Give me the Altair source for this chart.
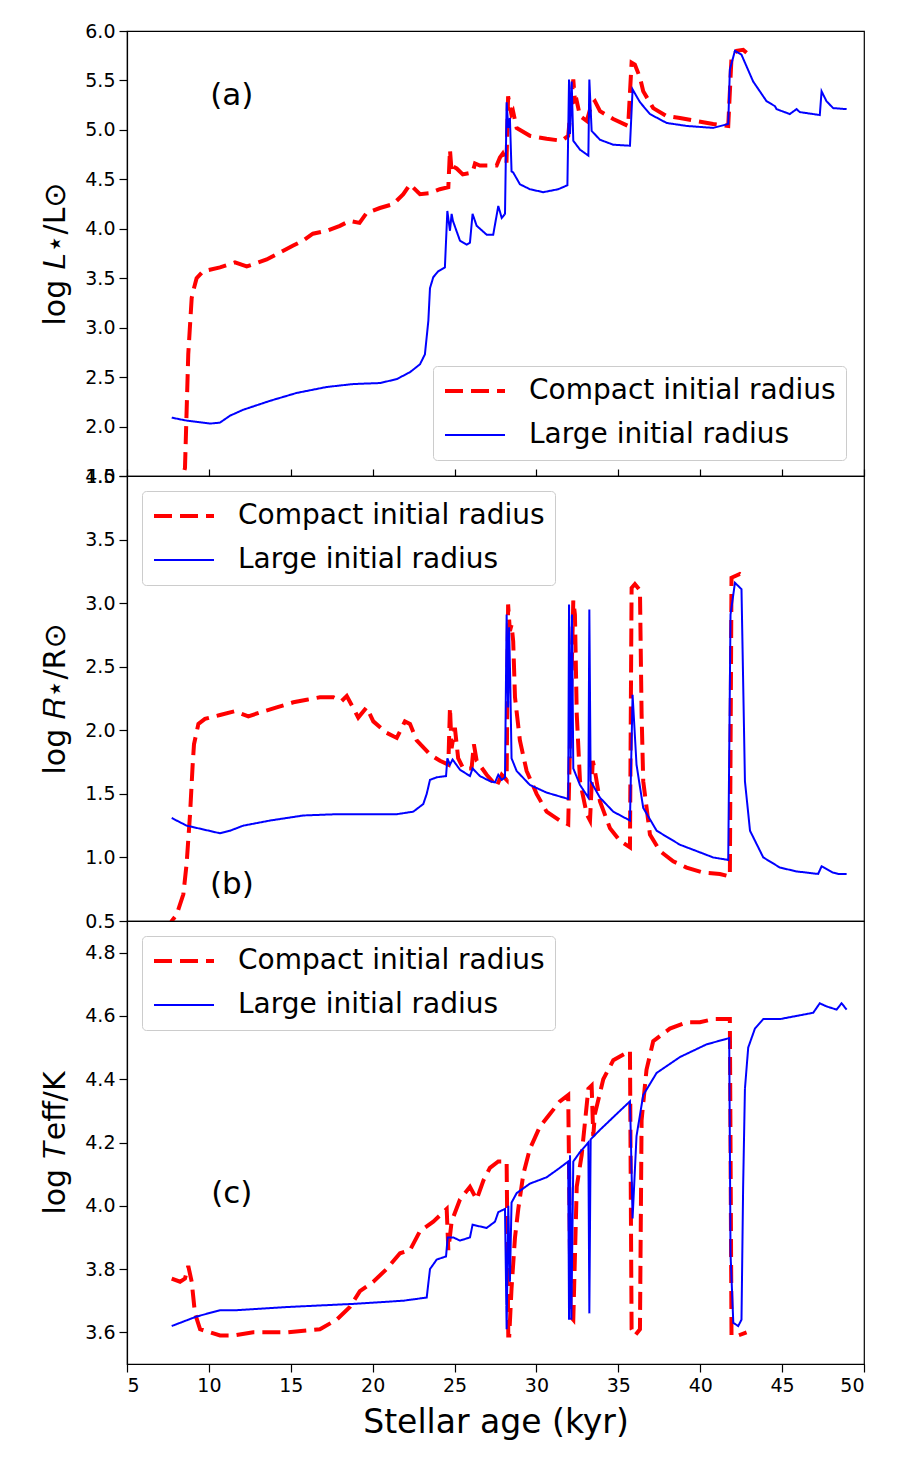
import altair as alt
import pandas as pd

SERIES = ["Compact initial radius", "Large initial radius"]
X_TICKS = [5, 10, 15, 20, 25, 30, 35, 40, 45, 50]

# ---------------- Panel (a): log L*/Lsun ----------------
a_red_t = [8.30, 8.42, 8.54, 8.74, 8.95, 9.09, 9.25, 9.64, 10.68, 11.59, 12.31, 12.69, 13.53, 14.34,
           15.15, 15.74, 16.35, 17.19, 18.0, 18.6, 19.2, 19.63, 20.44, 21.26, 21.87, 22.28, 22.46,
           22.89, 23.5, 24.1, 24.62, 24.72, 24.82, 24.9, 25.13, 25.5, 26.1, 26.25, 26.55, 27.16,
           27.57, 27.77, 27.94, 28.17, 28.27, 28.47, 28.57, 28.79, 29.6, 30.62, 31.54, 31.94, 32.25,
           32.35, 32.45, 32.66, 33.07, 33.37, 33.57, 33.88, 34.69, 35.6, 35.81, 36.01, 36.32, 36.52,
           37.13, 37.95, 38.76, 39.78, 40.79, 41.71, 41.91, 42.22, 42.62, 42.83]
a_red_v = [1.30, 1.50, 1.58, 2.73, 3.30, 3.40, 3.50, 3.57, 3.61, 3.66, 3.62, 3.64, 3.69, 3.76,
           3.83, 3.88, 3.95, 3.98, 4.03, 4.08, 4.06, 4.16, 4.21, 4.25, 4.35, 4.45, 4.42,
           4.35, 4.36, 4.40, 4.42, 4.80, 4.58, 4.63, 4.61, 4.55, 4.57, 4.66, 4.64, 4.64,
           4.64, 4.72, 4.76, 4.66, 5.34, 5.16, 5.19, 5.02, 4.94, 4.91, 4.89, 4.94, 5.51,
           5.29, 5.30, 5.14, 5.09, 5.26, 5.29, 5.19, 5.11, 5.04, 5.68, 5.66, 5.53, 5.39,
           5.22, 5.14, 5.12, 5.09, 5.06, 5.04, 5.73, 5.80, 5.81, 5.78]
a_blue_t = [7.73, 8.64, 10.07, 10.68, 11.29, 12.1, 13.73, 15.36, 17.19, 18.82, 20.45, 21.47, 22.28,
            22.89, 23.19, 23.4, 23.5, 23.7, 24.0, 24.41, 24.56, 24.72, 24.82, 24.9, 25.33, 25.74,
            25.94, 26.1, 26.35, 26.96, 27.36, 27.67, 27.88, 28.08, 28.18, 28.28, 28.38, 28.48,
            28.58, 28.99, 29.6, 30.42, 31.33, 31.89, 31.99, 32.05, 32.15, 32.25, 32.66, 33.17,
            33.23, 33.37, 33.88, 34.69, 35.71, 35.87, 36.32, 36.93, 37.95, 39.17, 40.79, 41.71,
            41.81, 42.12, 42.52, 43.23, 44.05, 44.56, 44.66, 45.47, 45.88, 46.08, 47.3, 47.41,
            47.71, 48.12, 48.94]
a_blue_v = [2.09, 2.06, 2.03, 2.04, 2.11, 2.17, 2.26, 2.34, 2.40, 2.43, 2.44, 2.48, 2.55,
            2.63, 2.73, 3.07, 3.40, 3.51, 3.57, 3.61, 4.18, 3.98, 4.15, 4.08, 3.88, 3.84,
            3.86, 4.15, 4.03, 3.94, 3.94, 4.23, 4.11, 4.15, 5.28, 5.02, 5.12, 4.58,
            4.57, 4.45, 4.40, 4.37, 4.40, 4.44, 5.51, 4.96, 5.49, 4.89, 4.80, 4.74,
            5.51, 4.99, 4.90, 4.85, 4.84, 5.41, 5.28, 5.16, 5.07, 5.04, 5.02, 5.06,
            5.61, 5.80, 5.76, 5.49, 5.29, 5.24, 5.21, 5.16, 5.21, 5.18, 5.15, 5.39,
            5.29, 5.22, 5.21]

# ---------------- Panel (b): log R*/Rsun ----------------
b_red_t = [7.60, 7.73, 8.03, 8.44, 8.64, 8.85, 9.01, 9.09, 9.36, 9.76, 10.68, 11.59, 12.41, 13.12,
           14.14, 15.16, 15.97, 16.78, 17.6, 18.11, 18.42, 19.12, 19.63, 20.04, 20.85, 21.47,
           21.97, 22.28, 22.69, 23.5, 24.11, 24.62, 24.72, 24.82, 25.02, 25.22, 25.53, 26.04,
           26.18, 26.35, 26.96, 27.57, 27.88, 28.18, 28.27, 28.38, 28.48, 28.58, 28.69, 28.99,
           29.4, 30.01, 30.62, 31.43, 31.94, 32.09, 32.25, 32.35, 32.46, 32.66, 33.07, 33.27,
           33.44, 33.57, 33.88, 34.49, 35.1, 35.71, 35.81, 36.01, 36.32, 36.42, 36.52, 36.93,
           37.54, 38.35, 39.17, 40.18, 41.2, 41.81, 41.91, 42.42, 42.83]
b_red_v = [0.40, 0.50, 0.55, 0.71, 0.95, 1.34, 1.73, 1.89, 2.05, 2.09, 2.12, 2.15, 2.11, 2.14,
           2.18, 2.22, 2.24, 2.26, 2.26, 2.23, 2.27, 2.10, 2.18, 2.07, 1.98, 1.94,
           2.07, 2.05, 1.92, 1.81, 1.76, 1.73, 2.18, 1.86, 2.02, 1.78, 1.70, 1.70,
           1.89, 1.76, 1.65, 1.56, 1.65, 1.61, 2.99, 2.78, 2.83, 2.70, 2.26, 1.92,
           1.68, 1.50, 1.36, 1.29, 1.26, 2.13, 3.02, 2.91, 2.13, 1.60, 1.34, 1.29,
           1.76, 1.68, 1.44, 1.23, 1.13, 1.08, 3.12, 3.15, 3.10, 2.13, 1.60, 1.18,
           1.05, 0.97, 0.92, 0.88, 0.87, 0.85, 3.20, 3.23, 3.20]
b_blue_t = [7.73, 8.64, 10.68, 11.29, 12.1, 13.73, 15.77, 17.8, 19.84, 21.47, 22.48, 23.09, 23.3,
            23.5, 23.91, 24.48, 24.56, 24.72, 24.88, 25.33, 25.94, 26.1, 26.55, 27.16, 27.47,
            27.67, 27.88, 28.08, 28.18, 28.27, 28.33, 28.40, 28.48, 28.79, 29.6, 30.62, 31.94,
            31.99, 32.09, 32.17, 32.25, 32.66, 33.17, 33.23, 33.31, 33.88, 34.69, 35.71, 35.87,
            36.11, 36.52, 37.34, 38.76, 39.78, 40.79, 41.71, 41.85, 42.12, 42.52, 42.73, 43.04,
            43.85, 44.87, 45.88, 47.2, 47.41, 48.12, 48.43, 48.94]
b_blue_v = [1.31, 1.25, 1.19, 1.21, 1.25, 1.29, 1.33, 1.34, 1.34, 1.34, 1.36, 1.42, 1.50,
            1.61, 1.63, 1.64, 1.78, 1.73, 1.77, 1.69, 1.64, 1.70, 1.64, 1.60, 1.59,
            1.65, 1.61, 1.63, 2.91, 2.18, 2.81, 2.39, 1.78, 1.68, 1.57, 1.51, 1.46,
            2.99, 1.78, 2.91, 1.70, 1.57, 1.47, 2.95, 1.60, 1.47, 1.36, 1.29, 2.28,
            1.73, 1.39, 1.21, 1.10, 1.05, 1.00, 0.98, 2.91, 3.16, 3.11, 1.60, 1.21,
            1.00, 0.92, 0.89, 0.87, 0.93, 0.88, 0.87, 0.87]

# ---------------- Panel (c): log Teff/K ----------------
c_red_t = [7.73, 8.24, 8.54, 8.74, 8.95, 9.15, 9.46, 10.68, 11.49, 12.71, 14.75, 16.78, 17.8, 18.61,
           19.22, 20.04, 20.85, 21.67, 22.28, 22.89, 23.7, 24.52, 24.62, 24.82, 25.33, 25.94,
           26.35, 26.76, 27.16, 27.67, 28.18, 28.28, 28.34, 28.48, 28.69, 28.89, 29.2, 29.6,
           30.21, 30.82, 31.43, 31.94, 32.09, 32.25, 32.46, 32.76, 33.17, 33.37, 33.47, 33.57,
           34.08, 34.69, 35.71, 35.81, 36.01, 36.32, 36.42, 36.72, 37.13, 38.15, 39.17, 39.98,
           40.79, 41.81, 41.91, 42.32, 42.83]
c_red_v = [3.77, 3.76, 3.77, 3.81, 3.76, 3.66, 3.61, 3.59, 3.59, 3.60, 3.60, 3.61, 3.64, 3.68,
           3.73, 3.76, 3.80, 3.85, 3.86, 3.92, 3.95, 3.99, 3.86, 3.95, 4.02, 4.06,
           4.02, 4.08, 4.12, 4.14, 4.14, 3.59, 3.59, 3.74, 3.90, 3.99, 4.10, 4.18,
           4.25, 4.29, 4.33, 4.35, 3.65, 3.64, 4.06, 4.16, 4.37, 4.38, 4.22, 4.29,
           4.40, 4.46, 4.49, 3.61, 3.59, 3.61, 4.27, 4.43, 4.52, 4.56, 4.58, 4.58,
           4.59, 4.59, 3.59, 3.59, 3.60]
c_blue_t = [7.73, 9.25, 10.68, 11.7, 14.75, 18.82, 21.87, 23.3, 23.5, 23.91, 24.48, 24.58, 24.93,
            25.33, 25.94, 26.1, 26.96, 27.47, 27.67, 28.08, 28.18, 28.28, 28.38, 28.48, 28.79,
            29.6, 30.62, 31.43, 31.94, 31.99, 32.05, 32.13, 32.25, 32.66, 33.17, 33.23, 33.31,
            33.88, 34.69, 35.71, 35.75, 35.87, 36.11, 36.52, 37.34, 38.76, 40.38, 41.77, 41.85,
            42.02, 42.32, 42.52, 42.62, 42.73, 42.93, 43.34, 43.85, 44.87, 45.88, 46.9, 47.3,
            47.71, 48.33, 48.63, 48.94]
c_blue_v = [3.62, 3.65, 3.67, 3.67, 3.68, 3.69, 3.70, 3.71, 3.80, 3.83, 3.84, 3.90, 3.90,
            3.89, 3.90, 3.94, 3.93, 3.95, 3.98, 3.99, 3.61, 4.00, 3.76, 4.01, 4.04,
            4.07, 4.09, 4.12, 4.14, 3.64, 4.16, 3.64, 4.14, 4.17, 4.20, 3.66, 4.21,
            4.24, 4.28, 4.33, 4.25, 3.96, 4.22, 4.35, 4.42, 4.47, 4.51, 4.53, 3.85,
            3.63, 3.62, 3.64, 4.06, 4.37, 4.50, 4.56, 4.59, 4.59, 4.60, 4.61, 4.64,
            4.63, 4.62, 4.64, 4.62]

FONT = "DejaVu Sans"


def frame(rt, rv, bt, bv):
    rows = []
    for i, (t, v) in enumerate(zip(rt, rv)):
        rows.append({"t": t, "v": v, "series": SERIES[0], "i": i})
    for i, (t, v) in enumerate(zip(bt, bv)):
        rows.append({"t": t, "v": v, "series": SERIES[1], "i": i})
    return pd.DataFrame(rows)


def panel(df, ydom, yvals, ytitle, label, lt, lv, lx, ly, xaxis, height):
    leg = alt.Legend(orient="none", legendX=lx, legendY=ly, title=None,
                     labelFontSize=28, labelFont=FONT, labelColor="black", labelLimit=500,
                     symbolType="stroke", symbolSize=3600, labelOffset=22,
                     fillColor="white", strokeColor="#cccccc", cornerRadius=4,
                     padding=10, rowPadding=14, clipHeight=30)
    xenc = alt.X("t:Q", scale=alt.Scale(domain=[5, 50], nice=False, zero=False), axis=xaxis)
    yenc = alt.Y("v:Q", scale=alt.Scale(domain=ydom, nice=False, zero=False),
                 axis=alt.Axis(values=yvals, format=".1f", title=ytitle, titlePadding=14))
    lines = alt.Chart(df).mark_line(clip=True).encode(
        x=xenc, y=yenc,
        color=alt.Color("series:N", scale=alt.Scale(domain=SERIES, range=["#ff0000", "#0000ff"]), legend=leg),
        strokeDash=alt.StrokeDash("series:N", scale=alt.Scale(domain=SERIES, range=[[18, 8], [1, 0]]), legend=leg),
        strokeWidth=alt.StrokeWidth("series:N", scale=alt.Scale(domain=SERIES, range=[4, 2]), legend=leg),
        order="i:Q",
    )
    lab = alt.Chart(pd.DataFrame({"t": [lt], "v": [lv], "txt": [label]})).mark_text(
        fontSize=31, font=FONT, color="black"
    ).encode(x=alt.X("t:Q"), y=alt.Y("v:Q"), text="txt:N")
    return alt.layer(lines, lab).properties(width=737, height=height)


df_a = frame(a_red_t, a_red_v, a_blue_t, a_blue_v)
df_b = frame(b_red_t, b_red_v, b_blue_t, b_blue_v)
df_c = frame(c_red_t, c_red_v, c_blue_t, c_blue_v)

pa = panel(df_a, [1.5, 6.0], [1.5, 2.0, 2.5, 3.0, 3.5, 4.0, 4.5, 5.0, 5.5, 6.0],
           "log 𝐿⋆/L⊙", "(a)", 11.4, 5.34, 306, 335, None, 445)
pb = panel(df_b, [0.5, 4.0], [0.5, 1.0, 1.5, 2.0, 2.5, 3.0, 3.5, 4.0],
           "log 𝑅⋆/R⊙", "(b)", 11.4, 0.78, 15, 15,
           alt.Axis(orient="top", values=X_TICKS, labels=False, domain=False, title=None, tickSize=7), 445)
pc = panel(df_c, [3.5, 4.9], [3.6, 3.8, 4.0, 4.2, 4.4, 4.6, 4.8],
           "log 𝑇eff/K", "(c)", 11.4, 4.036, 15, 15,
           alt.Axis(values=X_TICKS, format="d", title="Stellar age (kyr)", titleFontSize=33,
                    titlePadding=11), 443)

chart = alt.vconcat(pa, pb, pc, spacing=0, bounds="flush").resolve_scale(
    y="independent", color="independent", strokeDash="independent", strokeWidth="independent"
).resolve_legend(
    color="independent", strokeDash="independent", strokeWidth="independent"
).properties(
    padding={"left": 40, "top": 21, "right": 5, "bottom": 5},
    background="white",
).configure_view(
    stroke="black", strokeWidth=1.2
).configure_axis(
    domainColor="black", tickColor="black", labelColor="black", titleColor="black",
    labelFont=FONT, titleFont=FONT, labelFontSize=19, titleFontSize=30,
    titleFontWeight="normal", grid=False, tickSize=8, labelPadding=4,
    domainWidth=1.2, tickWidth=1.2,
)

chart.save("out.html", embed_options={"renderer": "svg", "actions": False})
